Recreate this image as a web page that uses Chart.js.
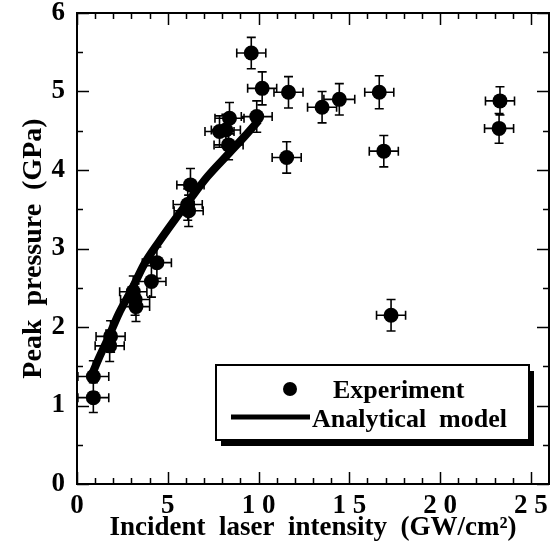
<!DOCTYPE html>
<html><head><meta charset="utf-8">
<script src="https://cdn.jsdelivr.net/npm/chart.js@4.4.0/dist/chart.umd.min.js"></script>
<style>html,body{margin:0;padding:0;background:#fff}</style>
</head><body>
<canvas id="c" width="550" height="554"></canvas>
<script>
// ---- data ----
const expX = [0.9, 0.9, 1.85, 1.8, 3.1, 3.2, 3.25, 4.1, 4.4, 6.1, 6.15, 6.25, 7.85, 8.2, 8.4, 8.35, 9.6, 9.9, 10.2, 11.55, 11.65, 13.5, 14.45, 16.65, 16.9, 17.3, 23.25, 23.3];
const expY = [1.10, 1.37, 1.88, 1.76, 2.45, 2.35, 2.26, 2.58, 2.82, 3.56, 3.48, 3.81, 4.49, 4.51, 4.66, 4.32, 5.49, 4.68, 5.04, 4.16, 4.99, 4.80, 4.90, 4.99, 4.24, 2.15, 4.53, 4.88];
const expXErr = [0.85, 0.85, 0.8, 0.8, 0.75, 0.8, 0.75, 0.8, 0.8, 0.8, 0.8, 0.75, 0.8, 0.8, 0.8, 0.8, 0.8, 0.85, 0.8, 0.8, 0.8, 0.8, 0.85, 0.8, 0.8, 0.8, 0.8, 0.8];
const expYErr = [0.19, 0.2, 0.2, 0.2, 0.2, 0.2, 0.19, 0.2, 0.2, 0.2, 0.2, 0.21, 0.2, 0.2, 0.2, 0.19, 0.2, 0.2, 0.21, 0.2, 0.2, 0.2, 0.2, 0.21, 0.2, 0.2, 0.19, 0.18];
const modelX = [0.8, 1.2, 1.7, 2.3, 3.0, 3.7, 4.5, 5.3, 6.2, 7.2, 8.4, 9.2, 10.0];
const modelY = [1.38, 1.6, 1.85, 2.17, 2.47, 2.8, 3.08, 3.34, 3.62, 3.92, 4.22, 4.42, 4.63];
const xTickValues = [0, 5, 10, 15, 20, 25];
const xTickLabels = ['0', '5', '1 0', '1 5', '2 0', '2 5'];
const yTickValues = [0, 1, 2, 3, 4, 5, 6];
const yTickLabels = ['0', '1', '2', '3', '4', '5', '6'];
const seriesLabels = ['Experiment', 'Analytical  model'];
const xTitle = 'Incident  laser  intensity  (GW/cm\u00B2)';
const yTitle = 'Peak  pressure  (GPa)';

const FONT = "'Liberation Serif', 'Times New Roman', serif";

const framePlugin = {
  id: 'frame',
  afterDatasetsDraw(chart) {
    const {ctx, chartArea: a, scales: {x, y}} = chart;
    ctx.save();
    ctx.strokeStyle = '#000';
    ctx.lineWidth = 2;
    ctx.strokeRect(a.left, a.top, a.right - a.left, a.bottom - a.top);
    ctx.lineWidth = 1.5;
    ctx.beginPath();
    x.ticks.forEach(t => {
      const px = Math.round(x.getPixelForValue(t.value)) + 0.5;
      const len = xTickValues.includes(t.value) ? 12 : 6;
      ctx.moveTo(px, a.bottom); ctx.lineTo(px, a.bottom - len);
      ctx.moveTo(px, a.top); ctx.lineTo(px, a.top + len);
    });
    y.ticks.forEach(t => {
      const py = Math.round(y.getPixelForValue(t.value)) + 0.5;
      const len = yTickValues.includes(t.value) ? 12 : 6;
      ctx.moveTo(a.left, py); ctx.lineTo(a.left + len, py);
      ctx.moveTo(a.right, py); ctx.lineTo(a.right - len, py);
    });
    ctx.stroke();
    ctx.restore();
  }
};

const errorBarPlugin = {
  id: 'errbars',
  afterDatasetsDraw(chart) {
    const {ctx, scales: {x, y}} = chart;
    ctx.save();
    ctx.strokeStyle = '#000';
    ctx.lineWidth = 1.6;
    ctx.beginPath();
    const cap = 4.5;
    expX.forEach((vx, i) => {
      const vy = expY[i];
      const cx = x.getPixelForValue(vx), cy = y.getPixelForValue(vy);
      const x0 = x.getPixelForValue(vx - expXErr[i]), x1 = x.getPixelForValue(vx + expXErr[i]);
      const y0 = y.getPixelForValue(vy - expYErr[i]), y1 = y.getPixelForValue(vy + expYErr[i]);
      ctx.moveTo(x0, cy); ctx.lineTo(x1, cy);
      ctx.moveTo(x0, cy - cap); ctx.lineTo(x0, cy + cap);
      ctx.moveTo(x1, cy - cap); ctx.lineTo(x1, cy + cap);
      ctx.moveTo(cx, y0); ctx.lineTo(cx, y1);
      ctx.moveTo(cx - cap, y0); ctx.lineTo(cx + cap, y0);
      ctx.moveTo(cx - cap, y1); ctx.lineTo(cx + cap, y1);
    });
    ctx.stroke();
    ctx.restore();
  }
};

const legendPlugin = {
  id: 'boxlegend',
  afterDraw(chart) {
    const ctx = chart.ctx;
    const L = 216, T = 365, W = 313, H = 75;
    ctx.save();
    ctx.fillStyle = '#000';
    ctx.fillRect(L + 5, T + 6, W, H);
    ctx.fillStyle = '#fff';
    ctx.fillRect(L, T, W, H);
    ctx.strokeStyle = '#000';
    ctx.lineWidth = 2;
    ctx.strokeRect(L, T, W, H);
    ctx.fillStyle = '#000';
    ctx.beginPath(); ctx.arc(290, 389, 7, 0, Math.PI * 2); ctx.fill();
    ctx.lineWidth = 5;
    ctx.beginPath(); ctx.moveTo(231, 417); ctx.lineTo(310, 417); ctx.stroke();
    ctx.font = 'bold 26px ' + FONT;
    ctx.textBaseline = 'alphabetic';
    ctx.textAlign = 'left';
    ctx.fillText(chart.data.datasets[0].label, 333, 398);
    ctx.fillText(chart.data.datasets[1].label, 312, 427);
    ctx.restore();
  }
};

const tickFont = {family: FONT, size: 27, weight: 'bold'};

new Chart(document.getElementById('c'), {
  type: 'scatter',
  data: {
    datasets: [
      {
        label: seriesLabels[0],
        data: expX.map((v, i) => ({x: v, y: expY[i]})),
        pointRadius: 7.5,
        pointBackgroundColor: '#000',
        pointBorderColor: '#000',
        pointBorderWidth: 0,
        showLine: false
      },
      {
        label: seriesLabels[1],
        type: 'line',
        data: modelX.map((v, i) => ({x: v, y: modelY[i]})),
        borderColor: '#000',
        borderWidth: 8,
        pointRadius: 0,
        cubicInterpolationMode: 'monotone',
        borderCapStyle: 'butt',
        fill: false
      }
    ]
  },
  options: {
    responsive: false,
    animation: false,
    events: [],
    layout: {autoPadding: false, padding: {top: 13, right: 1, left: 0, bottom: 0}},
    plugins: {legend: {display: false}, tooltip: {enabled: false}},
    scales: {
      x: {
        type: 'linear', min: 0, max: 26,
        grid: {display: false, drawTicks: false},
        border: {display: false},
        ticks: {
          stepSize: 1, autoSkip: false, maxRotation: 0, padding: 6, color: '#000', font: tickFont,
          callback: v => { const i = xTickValues.indexOf(v); return i >= 0 ? xTickLabels[i] : ''; }
        },
        title: {display: true, text: xTitle, color: '#000', font: tickFont, padding: {top: 0, bottom: 10}},
        afterFit: s => { s.height = 70; s.paddingLeft = 0; s.paddingRight = 0; }
      },
      y: {
        type: 'linear', min: 0, max: 6,
        grid: {display: false, drawTicks: false},
        border: {display: false},
        ticks: {
          stepSize: 0.5, autoSkip: false, padding: 12, color: '#000', font: tickFont,
          callback: v => { const i = yTickValues.indexOf(v); return i >= 0 ? yTickLabels[i] : ''; }
        },
        title: {display: true, text: yTitle, color: '#000', font: {family: FONT, size: 28, weight: 'bold'}, padding: {top: 17, bottom: 0}},
        afterFit: s => { s.width = 77; s.paddingTop = 0; s.paddingBottom = 0; }
      }
    }
  },
  plugins: [framePlugin, errorBarPlugin, legendPlugin]
});
</script>
</body></html>
